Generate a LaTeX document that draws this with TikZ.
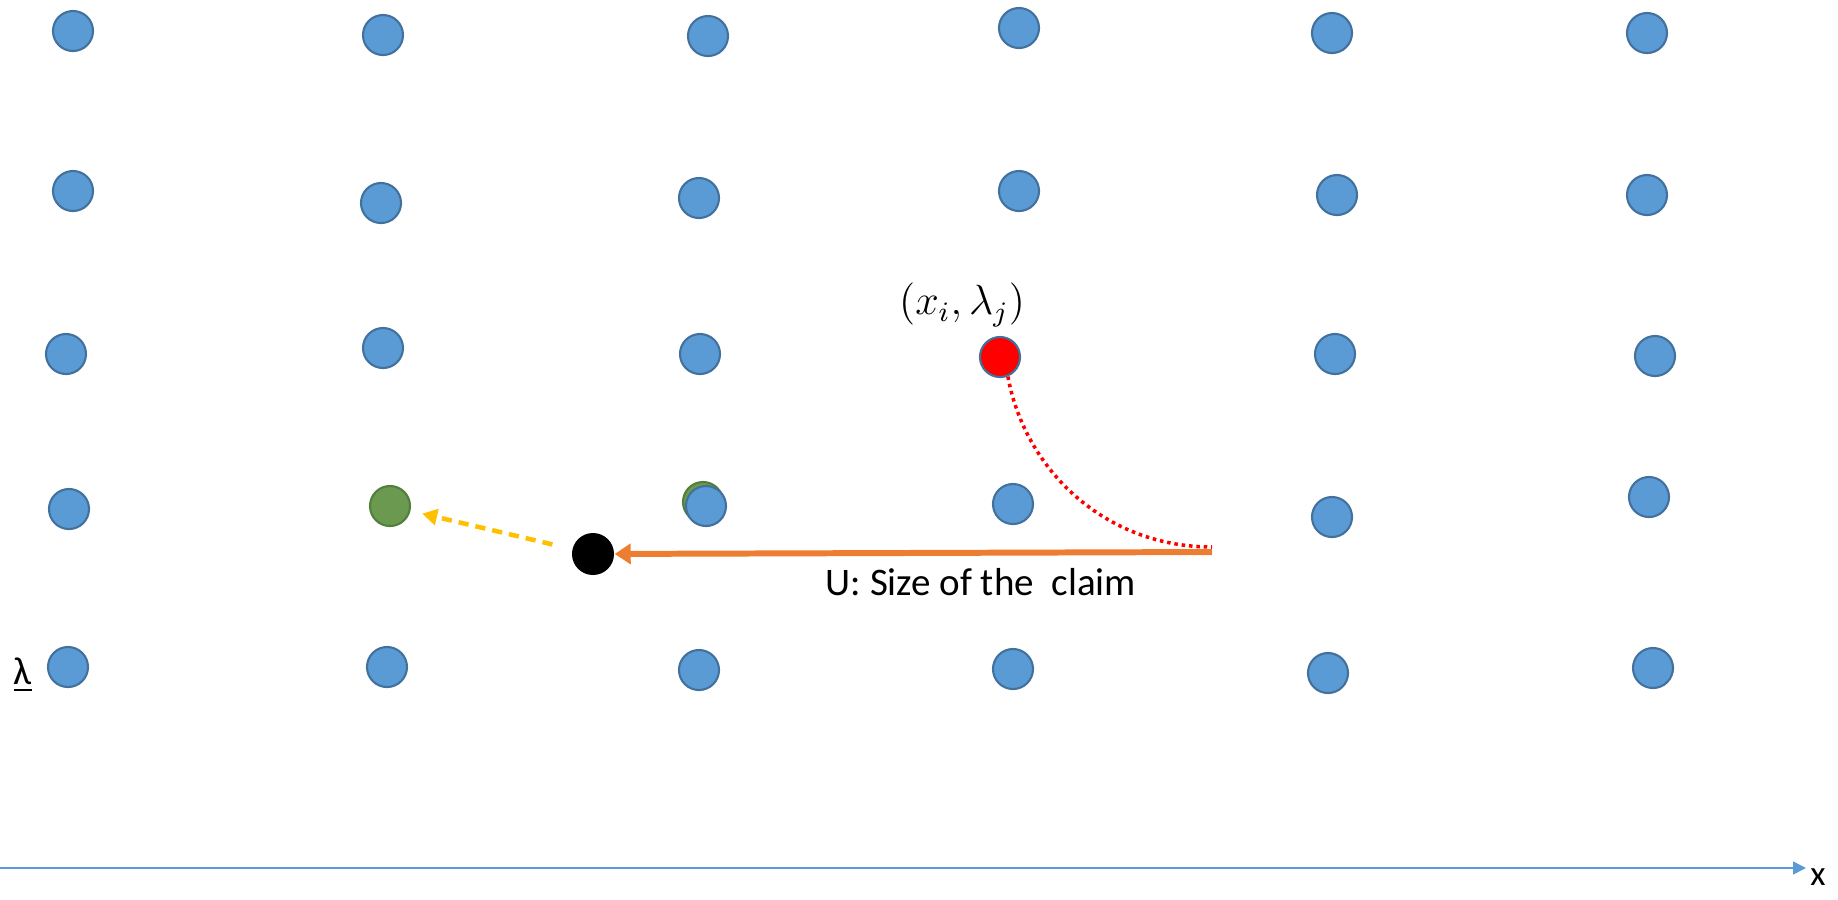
\documentclass[tikz,border=0pt]{standalone}
\usepackage{fontspec}
\setmainfont{Carlito}
\usetikzlibrary{arrows.meta}
\definecolor{dotblue}{HTML}{5B9BD5}
\definecolor{dotedge}{HTML}{41719C}
\definecolor{dotgreen}{HTML}{6A994F}
\definecolor{edgegreen}{HTML}{52803A}
\definecolor{uorange}{HTML}{ED7D31}
\definecolor{ygold}{HTML}{FFC000}
\tikzset{
  gdot/.style={circle, minimum size=0.4cm, inner sep=0pt, fill=dotblue, draw=dotedge, line width=0.6pt},
  reddot/.style={gdot, fill=red},
  greendot/.style={gdot, fill=dotgreen, draw=edgegreen},
  blackdot/.style={circle, minimum size=0.42cm, inner sep=0pt, fill=black},
  lbl/.style={font=\fontsize{11.1}{13}\selectfont, inner sep=0pt},
  uarrow/.style={draw=uorange, line width=1.7pt, -{Triangle[length=0.16cm,width=0.2cm]}},
  yarrow/.style={draw=ygold, line width=1.3pt, dash pattern=on 2.9pt off 2pt, -{Triangle[length=0.15cm,width=0.16cm]}},
  rcurve/.style={draw=red, line width=1pt, dash pattern=on 1pt off 1.1pt},
  axis/.style={draw=dotblue, line width=0.45pt, -{Triangle[length=0.13cm,width=0.13cm]}}
}
\begin{document}
\begin{tikzpicture}[x=0.01cm,y=-0.01cm]
\useasboundingbox (0,0) rectangle (1838,899);
% row 1
\node[gdot] (d11) at (73,31) {};
\node[gdot] (d12) at (383,35) {};
\node[gdot] (d13) at (708,36) {};
\node[gdot] (d14) at (1019,28) {};
\node[gdot] (d15) at (1332,33) {};
\node[gdot] (d16) at (1647,33) {};
% row 2
\node[gdot] (d21) at (73,191) {};
\node[gdot] (d22) at (381,203) {};
\node[gdot] (d23) at (699,198) {};
\node[gdot] (d24) at (1019,191) {};
\node[gdot] (d25) at (1337,195) {};
\node[gdot] (d26) at (1647,195) {};
% row 3
\node[gdot] (d31) at (66,354) {};
\node[gdot] (d32) at (383,348) {};
\node[gdot] (d33) at (700,354) {};
\node[reddot] (red) at (1000,357) {};
\node[gdot] (d35) at (1335,354) {};
\node[gdot] (d36) at (1655,356) {};
% row 4
\node[gdot] (d41) at (69,509) {};
\node[greendot] (grn) at (390,506) {};
\node[greendot] (d43g) at (703,502) {};
\node[gdot] (d43) at (706,506) {};
\node[gdot] (d44) at (1013,504) {};
\node[gdot] (d45) at (1332,517) {};
\node[gdot] (d46) at (1649,497) {};
% row 5
\node[gdot] (d51) at (68,667) {};
\node[gdot] (d52) at (387,667) {};
\node[gdot] (d53) at (699,670) {};
\node[gdot] (d54) at (1013,669) {};
\node[gdot] (d55) at (1328,673) {};
\node[gdot] (d56) at (1653,668) {};
% black point
\node[blackdot] (blk) at (593,554) {};
% labels
\node[inner sep=0pt, font=\fontsize{11.5}{13}\selectfont] (xl) at (962,305) {$(x_i,\lambda_j)$};
\node[lbl, anchor=west] (ulab) at (825,582) {U: Size of the\ \ claim};
\node[lbl] (lam) at (23,675) {\underline{λ}};
% connectors
\coordinate (ustart) at (1212,552);
\coordinate (cend) at (1212,547);
\draw[uarrow] (ustart) -- (blk);
\draw[yarrow, shorten <=0.2cm, shorten >=0.12cm] (blk) -- (grn);
\draw[rcurve] (red.-68) .. controls (1025,470) and (1105,547) .. (cend);
% axis
\coordinate (ax0) at (0,868);
\coordinate (axend) at (1806,868);
\draw[axis] (ax0) -- (axend);
\node[lbl, font=\fontsize{10}{12}\selectfont] (xax) at (1818,877) {x};
\end{tikzpicture}
\end{document}
